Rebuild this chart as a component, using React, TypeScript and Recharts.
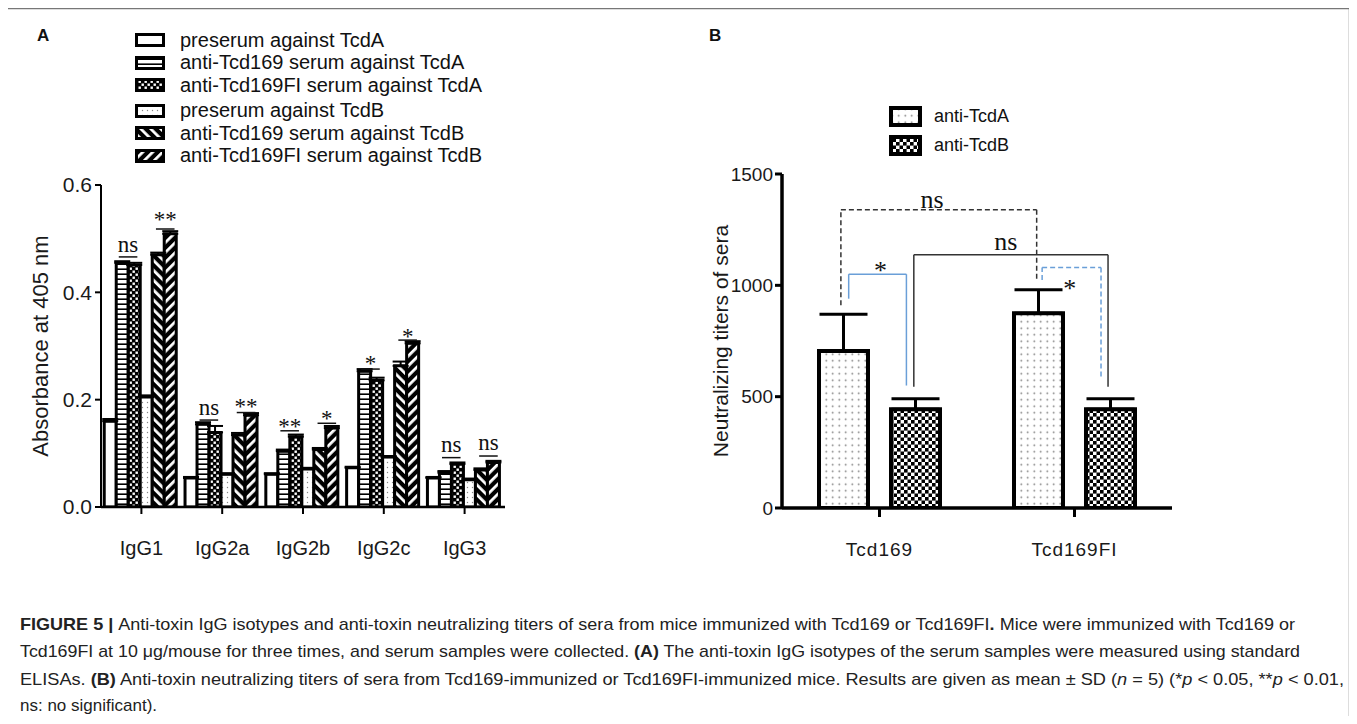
import React from 'react';
import { BarChart, Bar, XAxis, YAxis, ErrorBar, ReferenceLine, ReferenceDot, Legend } from 'recharts';

// ---------- Panel A data ----------
const isotypes = ['IgG1', 'IgG2a', 'IgG2b', 'IgG2c', 'IgG3'];
const preserumTcdA = [0.16, 0.054, 0.061, 0.073, 0.054];
const antiTcd169TcdA = [0.455, 0.154, 0.104, 0.253, 0.064];
const antiTcd169FITcdA = [0.451, 0.139, 0.131, 0.236, 0.08];
const preserumTcdB = [0.205, 0.061, 0.071, 0.093, 0.051];
const antiTcd169TcdB = [0.47, 0.134, 0.107, 0.263, 0.069];
const antiTcd169FITcdB = [0.509, 0.171, 0.147, 0.305, 0.083];
const errPreA = [0.004, 0.002, 0.002, 0.002, 0.002];
const err169A = [0.003, 0.004, 0.003, 0.004, 0.003];
const errFIA = [0.004, 0.012, 0.004, 0.005, 0.003];
const errPreB = [0.003, 0.002, 0.002, 0.002, 0.002];
const err169B = [0.004, 0.004, 0.003, 0.008, 0.003];
const errFIB = [0.005, 0.004, 0.004, 0.004, 0.003];
const yTicksA = [0, 0.2, 0.4, 0.6];

// significance marks, panel A (per isotype: [pair of anti-TcdA bars, pair of anti-TcdB bars])
const sigLabelsA = [['ns', '**'], ['ns', '**'], ['**', '*'], ['*', '*'], ['ns', 'ns']];
const sigLineA = [[0.466, 0.518], [0.162, 0.176], [0.142, 0.156], [0.257, 0.311], [0.092, 0.095]];
const sigTextA = [[0.49, 0.548], [0.186, 0.2], [0.162, 0.178], [0.28, 0.33], [0.116, 0.12]];
const pairSpanA = [[0.22, 0.45], [0.68, 0.91]];

// ---------- Panel B data ----------
const groupsB = ['Tcd169', 'Tcd169FI'];
const antiTcdA = [705, 875];
const antiTcdASD = [165, 105];
const antiTcdB = [443, 443];
const antiTcdBSD = [48, 48];
const yTicksB = [0, 500, 1000, 1500];

// brackets, panel B (x in category units on a 0..2 scale, y in titer units)
const bracketX1 = [0.302, 0.342, 0.676, 1.334];
const bracketX2 = [1.306, 0.638, 1.672, 1.636];
const bracketTop = [1340, 1050, 1137, 1080];
const bracketLeftEnd = [910, 940, 545, 1024];
const bracketRightEnd = [1030, 550, 545, 588];
const bracketLabel = ['ns', '*', 'ns', '*'];
const bracketLabelX = [0.77, 0.505, 1.148, 1.476];
const bracketLabelY = [1385, 1100, 1195, 1020];
const bracketColor = ['#333', '#6a9fd8', '#333', '#6a9fd8'];
const bracketDash = ['5 3', '', '', '5 3'];

const SANS = '"Liberation Sans", Arial, sans-serif';
const SERIF = '"Liberation Serif", "Times New Roman", serif';

const seriesA = [
  { key: 'preA', name: 'preserum against TcdA', values: preserumTcdA, errors: errPreA, fill: '#ffffff' },
  { key: 'a169A', name: 'anti-Tcd169 serum against TcdA', values: antiTcd169TcdA, errors: err169A, fill: 'url(#hStripe)' },
  { key: 'aFIA', name: 'anti-Tcd169FI serum against TcdA', values: antiTcd169FITcdA, errors: errFIA, fill: 'url(#checkA)' },
  { key: 'preB', name: 'preserum against TcdB', values: preserumTcdB, errors: errPreB, fill: 'url(#dotsA)' },
  { key: 'a169B', name: 'anti-Tcd169 serum against TcdB', values: antiTcd169TcdB, errors: err169B, fill: 'url(#diagBack)' },
  { key: 'aFIB', name: 'anti-Tcd169FI serum against TcdB', values: antiTcd169FITcdB, errors: errFIB, fill: 'url(#diagFwd)' },
];

const dataA = isotypes.map((iso, i) => {
  const row: any = { isotype: iso, pos: i + 0.5 };
  seriesA.forEach((s) => {
    row[s.key] = s.values[i];
    row[s.key + 'Err'] = [0, s.errors[i]];
  });
  return row;
});

const seriesB = [
  { key: 'tcdA', name: 'anti-TcdA', values: antiTcdA, sd: antiTcdASD, fill: 'url(#dotsB)' },
  { key: 'tcdB', name: 'anti-TcdB', values: antiTcdB, sd: antiTcdBSD, fill: 'url(#checkB)' },
];

const dataB = groupsB.map((g, i) => {
  const row: any = { group: g, pos: i + 0.5 };
  seriesB.forEach((s) => {
    row[s.key] = s.values[i];
    row[s.key + 'Err'] = [0, s.sd[i]];
  });
  return row;
});

const Patterns = () => (
  <svg width={0} height={0} style={{ position: 'absolute' }}>
    <defs>
      <pattern id="hStripe" width={6} height={5} patternUnits="userSpaceOnUse">
        <rect width={6} height={5} fill="#fff" />
        <rect y={3.4} width={6} height={1.6} fill="#000" />
      </pattern>
      <pattern id="checkA" width={6} height={6} patternUnits="userSpaceOnUse">
        <rect width={6} height={6} fill="#000" />
        <rect x={0.5} y={0.5} width={2.4} height={2.4} fill="#fff" />
        <rect x={3.5} y={3.5} width={2.4} height={2.4} fill="#fff" />
      </pattern>
      <pattern id="dotsA" width={5} height={5} patternUnits="userSpaceOnUse">
        <rect width={5} height={5} fill="#fff" />
        <circle cx={2.5} cy={2.5} r={0.7} fill="#888" />
      </pattern>
      <pattern id="diagBack" width={7} height={7} patternUnits="userSpaceOnUse" patternTransform="rotate(-45)">
        <rect width={7} height={7} fill="#000" />
        <rect width={2.8} height={7} fill="#fff" />
      </pattern>
      <pattern id="diagFwd" width={7} height={7} patternUnits="userSpaceOnUse" patternTransform="rotate(45)">
        <rect width={7} height={7} fill="#000" />
        <rect width={2.8} height={7} fill="#fff" />
      </pattern>
      <pattern id="dotsB" width={6.5} height={6.5} patternUnits="userSpaceOnUse">
        <rect width={6.5} height={6.5} fill="#fff" />
        <circle cx={3.25} cy={3.25} r={0.85} fill="#777" />
      </pattern>
      <pattern id="checkB" width={7} height={7} patternUnits="userSpaceOnUse">
        <rect width={7} height={7} fill="#fff" />
        <rect x={0} y={0} width={3.6} height={3.6} fill="#000" />
        <rect x={3.5} y={3.5} width={3.6} height={3.6} fill="#000" />
      </pattern>
    </defs>
  </svg>
);

const LegendA = () => (
  <div style={{ fontFamily: SANS, fontSize: 20, color: '#111' }}>
    {seriesA.map((s, i) => (
      <div key={s.key} style={{ display: 'flex', alignItems: 'center', height: 22.5, marginTop: i === 3 ? 3 : 0, whiteSpace: 'nowrap' }}>
        <svg width={30} height={16} style={{ flex: 'none' }}>
          <rect x={1.5} y={2.5} width={27} height={11} fill={s.fill} stroke="#000" strokeWidth={3} />
        </svg>
        <span style={{ marginLeft: 15 }}>{s.name}</span>
      </div>
    ))}
  </div>
);

const LegendB = () => (
  <div style={{ fontFamily: SANS, fontSize: 18, color: '#111' }}>
    {seriesB.map((s) => (
      <div key={s.key} style={{ display: 'flex', alignItems: 'center', height: 29, whiteSpace: 'nowrap' }}>
        <svg width={33} height={21} style={{ flex: 'none' }}>
          <rect x={2} y={2} width={29} height={17} fill={s.fill} stroke="#000" strokeWidth={4} />
        </svg>
        <span style={{ marginLeft: 12 }}>{s.name}</span>
      </div>
    ))}
  </div>
);

const textShape = (text: string, size: number) => (props: any) => (
  <text
    x={props.cx}
    y={props.cy}
    dy={text.startsWith('*') ? size * 0.3 : 0}
    textAnchor="middle"
    dominantBaseline="central"
    fontFamily={SERIF}
    fontSize={size}
    fill="#111"
  >
    {text}
  </text>
);

const ChartA = () => (
  <BarChart
    width={680}
    height={600}
    data={dataA}
    margin={{ top: 185, right: 175, bottom: 33, left: 11 }}
    barCategoryGap="4%"
    barGap={0}
  >
    <XAxis
      xAxisId="cat"
      dataKey="isotype"
      interval={0}
      height={60}
      axisLine={{ stroke: '#000', strokeWidth: 2.5 }}
      tickLine={{ stroke: '#000', strokeWidth: 2 }}
      tickSize={7}
      tickMargin={27}
      tick={{ fill: '#1a1a1a', fontSize: 20, fontFamily: SANS }}
    />
    <XAxis xAxisId="num" dataKey="pos" type="number" domain={[0, 5]} hide allowDataOverflow />
    <YAxis
      domain={[0, 0.6]}
      ticks={yTicksA}
      interval={0}
      allowDataOverflow
      width={90}
      tickFormatter={(v: number) => v.toFixed(1)}
      axisLine={{ stroke: '#000', strokeWidth: 2 }}
      tickLine={{ stroke: '#000', strokeWidth: 2 }}
      tickSize={6}
      tickMargin={3}
      tick={{ fill: '#1a1a1a', fontSize: 21, fontFamily: SANS }}
      label={{
        value: 'Absorbance at 405 nm',
        angle: -90,
        position: 'insideLeft',
        offset: 29,
        style: { textAnchor: 'middle', fontSize: 22, fill: '#1a1a1a', fontFamily: SANS },
      }}
    />
    {seriesA.map((s) => (
      <Bar key={s.key} xAxisId="cat" dataKey={s.key} name={s.name} fill={s.fill} stroke="#000" strokeWidth={3} isAnimationActive={false}>
        <ErrorBar dataKey={s.key + 'Err'} width={8} stroke="#000" strokeWidth={2} direction="y" />
      </Bar>
    ))}
    {sigLabelsA.flatMap((pair, i) =>
      pair.map((lab, j) => (
        <ReferenceLine
          key={`la${i}${j}`}
          xAxisId="num"
          segment={[
            { x: i + pairSpanA[j][0], y: sigLineA[i][j] },
            { x: i + pairSpanA[j][1], y: sigLineA[i][j] },
          ]}
          stroke="#111"
          strokeWidth={1.5}
          ifOverflow="visible"
        />
      ))
    )}
    {sigLabelsA.flatMap((pair, i) =>
      pair.map((lab, j) => (
        <ReferenceDot
          key={`ta${i}${j}`}
          xAxisId="num"
          x={i + (pairSpanA[j][0] + pairSpanA[j][1]) / 2}
          y={sigTextA[i][j]}
          r={0}
          ifOverflow="visible"
          shape={textShape(lab, 23)}
        />
      ))
    )}
    <Legend
      layout="vertical"
      align="center"
      verticalAlign="middle"
      content={<LegendA />}
      wrapperStyle={{ position: 'absolute', left: 135, top: 29, width: 'auto', height: 'auto' }}
    />
  </BarChart>
);

const ChartB = () => (
  <BarChart
    width={677}
    height={600}
    data={dataB}
    margin={{ top: 174, right: 185, bottom: 32, left: 12 }}
    barSize={49}
    barGap={23}
  >
    <XAxis
      xAxisId="cat"
      dataKey="group"
      interval={0}
      height={60}
      axisLine={{ stroke: '#000', strokeWidth: 3.5 }}
      tickLine={{ stroke: '#000', strokeWidth: 3 }}
      tickSize={9}
      tickMargin={26}
      tick={{ fill: '#1a1a1a', fontSize: 19, fontFamily: SANS, letterSpacing: 1 }}
    />
    <XAxis xAxisId="num" dataKey="pos" type="number" domain={[0, 2]} hide allowDataOverflow />
    <YAxis
      domain={[0, 1500]}
      ticks={yTicksB}
      interval={0}
      allowDataOverflow
      width={90}
      axisLine={{ stroke: '#000', strokeWidth: 3.5 }}
      tickLine={{ stroke: '#000', strokeWidth: 3 }}
      tickSize={7}
      tickMargin={2}
      tick={{ fill: '#1a1a1a', fontSize: 19, fontFamily: SANS }}
      label={{
        value: 'Neutralizing titers of sera',
        angle: -90,
        position: 'insideLeft',
        offset: 29,
        style: { textAnchor: 'middle', fontSize: 21, fill: '#1a1a1a', fontFamily: SANS },
      }}
    />
    {seriesB.map((s) => (
      <Bar key={s.key} xAxisId="cat" dataKey={s.key} name={s.name} fill={s.fill} stroke="#000" strokeWidth={4} isAnimationActive={false}>
        <ErrorBar dataKey={s.key + 'Err'} width={24} stroke="#000" strokeWidth={3} direction="y" />
      </Bar>
    ))}
    {bracketLabel.flatMap((lab, k) => [
      <ReferenceLine
        key={`bl${k}`}
        xAxisId="num"
        segment={[{ x: bracketX1[k], y: bracketLeftEnd[k] }, { x: bracketX1[k], y: bracketTop[k] }]}
        stroke={bracketColor[k]}
        strokeWidth={1.5}
        strokeDasharray={bracketDash[k] || undefined}
        ifOverflow="visible"
      />,
      <ReferenceLine
        key={`bt${k}`}
        xAxisId="num"
        segment={[{ x: bracketX1[k], y: bracketTop[k] }, { x: bracketX2[k], y: bracketTop[k] }]}
        stroke={bracketColor[k]}
        strokeWidth={1.5}
        strokeDasharray={bracketDash[k] || undefined}
        ifOverflow="visible"
      />,
      <ReferenceLine
        key={`br${k}`}
        xAxisId="num"
        segment={[{ x: bracketX2[k], y: bracketTop[k] }, { x: bracketX2[k], y: bracketRightEnd[k] }]}
        stroke={bracketColor[k]}
        strokeWidth={1.5}
        strokeDasharray={bracketDash[k] || undefined}
        ifOverflow="visible"
      />,
      <ReferenceDot
        key={`bx${k}`}
        xAxisId="num"
        x={bracketLabelX[k]}
        y={bracketLabelY[k]}
        r={0}
        ifOverflow="visible"
        shape={textShape(lab, 26)}
      />,
    ])}
    <Legend
      layout="vertical"
      align="center"
      verticalAlign="middle"
      content={<LegendB />}
      wrapperStyle={{ position: 'absolute', left: 209, top: 102, width: 'auto', height: 'auto' }}
    />
  </BarChart>
);

const Caption = () => (
  <svg width={1357} height={724} style={{ position: 'absolute', left: 0, top: 0 }}>
    <rect x={6.5} y={8.5} width={1343} height={760} fill="none" stroke="#777" strokeWidth={1.5} />
    <g fontFamily={SANS} fontSize={17} fill="#222">
      <text x={20} y={630} textLength={1275} lengthAdjust="spacingAndGlyphs">
        <tspan fontWeight="bold">FIGURE 5 | </tspan>
        Anti-toxin IgG isotypes and anti-toxin neutralizing titers of sera from mice immunized with Tcd169 or Tcd169FI
        <tspan fontWeight="bold">.</tspan> Mice were immunized with Tcd169 or
      </text>
      <text x={20} y={657} textLength={1280} lengthAdjust="spacingAndGlyphs">
        Tcd169FI at 10 μg/mouse for three times, and serum samples were collected. <tspan fontWeight="bold">(A)</tspan> The anti-toxin IgG isotypes of the serum samples were measured using standard
      </text>
      <text x={20} y={685} textLength={1324} lengthAdjust="spacingAndGlyphs">
        ELISAs. <tspan fontWeight="bold">(B)</tspan> Anti-toxin neutralizing titers of sera from Tcd169-immunized or Tcd169FI-immunized mice. Results are given as mean ± SD (<tspan fontStyle="italic">n</tspan> = 5) (*<tspan fontStyle="italic">p</tspan> {'<'} 0.05, **<tspan fontStyle="italic">p</tspan> {'<'} 0.01,
      </text>
      <text x={20} y={711}>ns: no significant).</text>
    </g>
  </svg>
);

export default function App() {
  return (
    <div style={{ position: 'relative', width: 1357, height: 724, margin: -8, background: '#fff', overflow: 'hidden', fontFamily: SANS }}>
      <Patterns />
      <Caption />
      <div style={{ position: 'absolute', left: 37, top: 26, fontFamily: SANS, fontWeight: 'bold', fontSize: 17, color: '#111' }}>A</div>
      <div style={{ position: 'absolute', left: 709, top: 26, fontFamily: SANS, fontWeight: 'bold', fontSize: 17, color: '#111' }}>B</div>
      <div style={{ position: 'absolute', left: 0, top: 0 }}>
        <ChartA />
      </div>
      <div style={{ position: 'absolute', left: 680, top: 0 }}>
        <ChartB />
      </div>
    </div>
  );
}
